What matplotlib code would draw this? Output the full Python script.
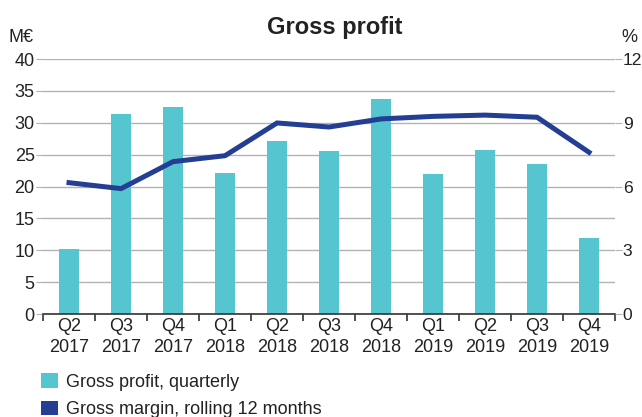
import matplotlib
matplotlib.use("Agg")
import matplotlib.pyplot as plt
from matplotlib.patches import Patch
import numpy as np

plt.rcParams['font.family'] = ['Liberation Sans', 'DejaVu Sans']

quarters = ["Q2\n2017", "Q3\n2017", "Q4\n2017", "Q1\n2018", "Q2\n2018", "Q3\n2018",
            "Q4\n2018", "Q1\n2019", "Q2\n2019", "Q3\n2019", "Q4\n2019"]
gross_profit = [10.2, 31.3, 32.5, 22.1, 27.1, 25.5, 33.8, 21.9, 25.7, 23.6, 12.0]
gross_margin = [6.18, 5.90, 7.17, 7.45, 8.99, 8.80, 9.18, 9.30, 9.36, 9.26, 7.61]

bar_color = "#55C5D0"
line_color = "#233E92"
text_color = "#222222"
grid_color = "#b3b3b3"
fs = 13

fig = plt.figure(figsize=(6.42, 4.17), dpi=100)
ax = fig.add_axes([0.067, 0.247, 0.891, 0.6115])
ax2 = ax.twinx()

x = np.arange(len(quarters))
ax.bar(x, gross_profit, width=0.39, color=bar_color, zorder=2)
ax2.plot(x, gross_margin, color=line_color, lw=3.6, solid_joinstyle='miter', zorder=3)

ax.set_xlim(-0.5, len(quarters) - 0.5)
ax.set_ylim(0, 40)
ax2.set_ylim(0, 12)
ax.set_yticks(range(0, 41, 5))
ax2.set_yticks(range(0, 13, 3))
ax.grid(axis='y', color=grid_color, lw=1.0, zorder=0)
ax.set_axisbelow(True)

for a in (ax, ax2):
    for s in ('top', 'left', 'right', 'bottom'):
        a.spines[s].set_visible(False)
ax.spines['bottom'].set_visible(True)
ax.spines['bottom'].set_color("#333333")
ax.spines['bottom'].set_linewidth(1.2)

ax.set_xticks(x)
ax.set_xticklabels(quarters, fontsize=fs, color=text_color, linespacing=1.3)
ax.tick_params(axis='x', length=0, pad=3)
ax.set_xticks(np.arange(-0.5, len(quarters), 1.0), minor=True)
ax.tick_params(axis='x', which='minor', length=5, width=1.2, color="#333333", direction='out')
ax.tick_params(axis='y', labelsize=fs, labelcolor=text_color, length=5, color=grid_color, pad=1)
ax2.tick_params(axis='y', labelsize=12.6, labelcolor=text_color, length=5, color=grid_color, pad=0.5)

fig.text(0.522, 0.933, "Gross profit", ha='center', va='center', fontsize=17,
         fontweight='bold', color=text_color)
fig.text(0.014, 0.91, "M€", ha='left', va='center', fontsize=fs, color=text_color)
fig.text(0.968, 0.91, "%", ha='left', va='center', fontsize=fs, color=text_color)

handles = [Patch(facecolor=bar_color, edgecolor='none'),
           Patch(facecolor=line_color, edgecolor='none')]
labels = ["Gross profit, quarterly", "Gross margin, rolling 12 months"]
fig.legend(handles, labels, loc='upper left', bbox_to_anchor=(0.064, 0.105),
           frameon=False, fontsize=fs, handlelength=0.95, handleheight=0.85,
           handletextpad=0.45, labelspacing=0.55, borderaxespad=0, borderpad=0,
           labelcolor=text_color)

fig.savefig("out.png", dpi=100)
